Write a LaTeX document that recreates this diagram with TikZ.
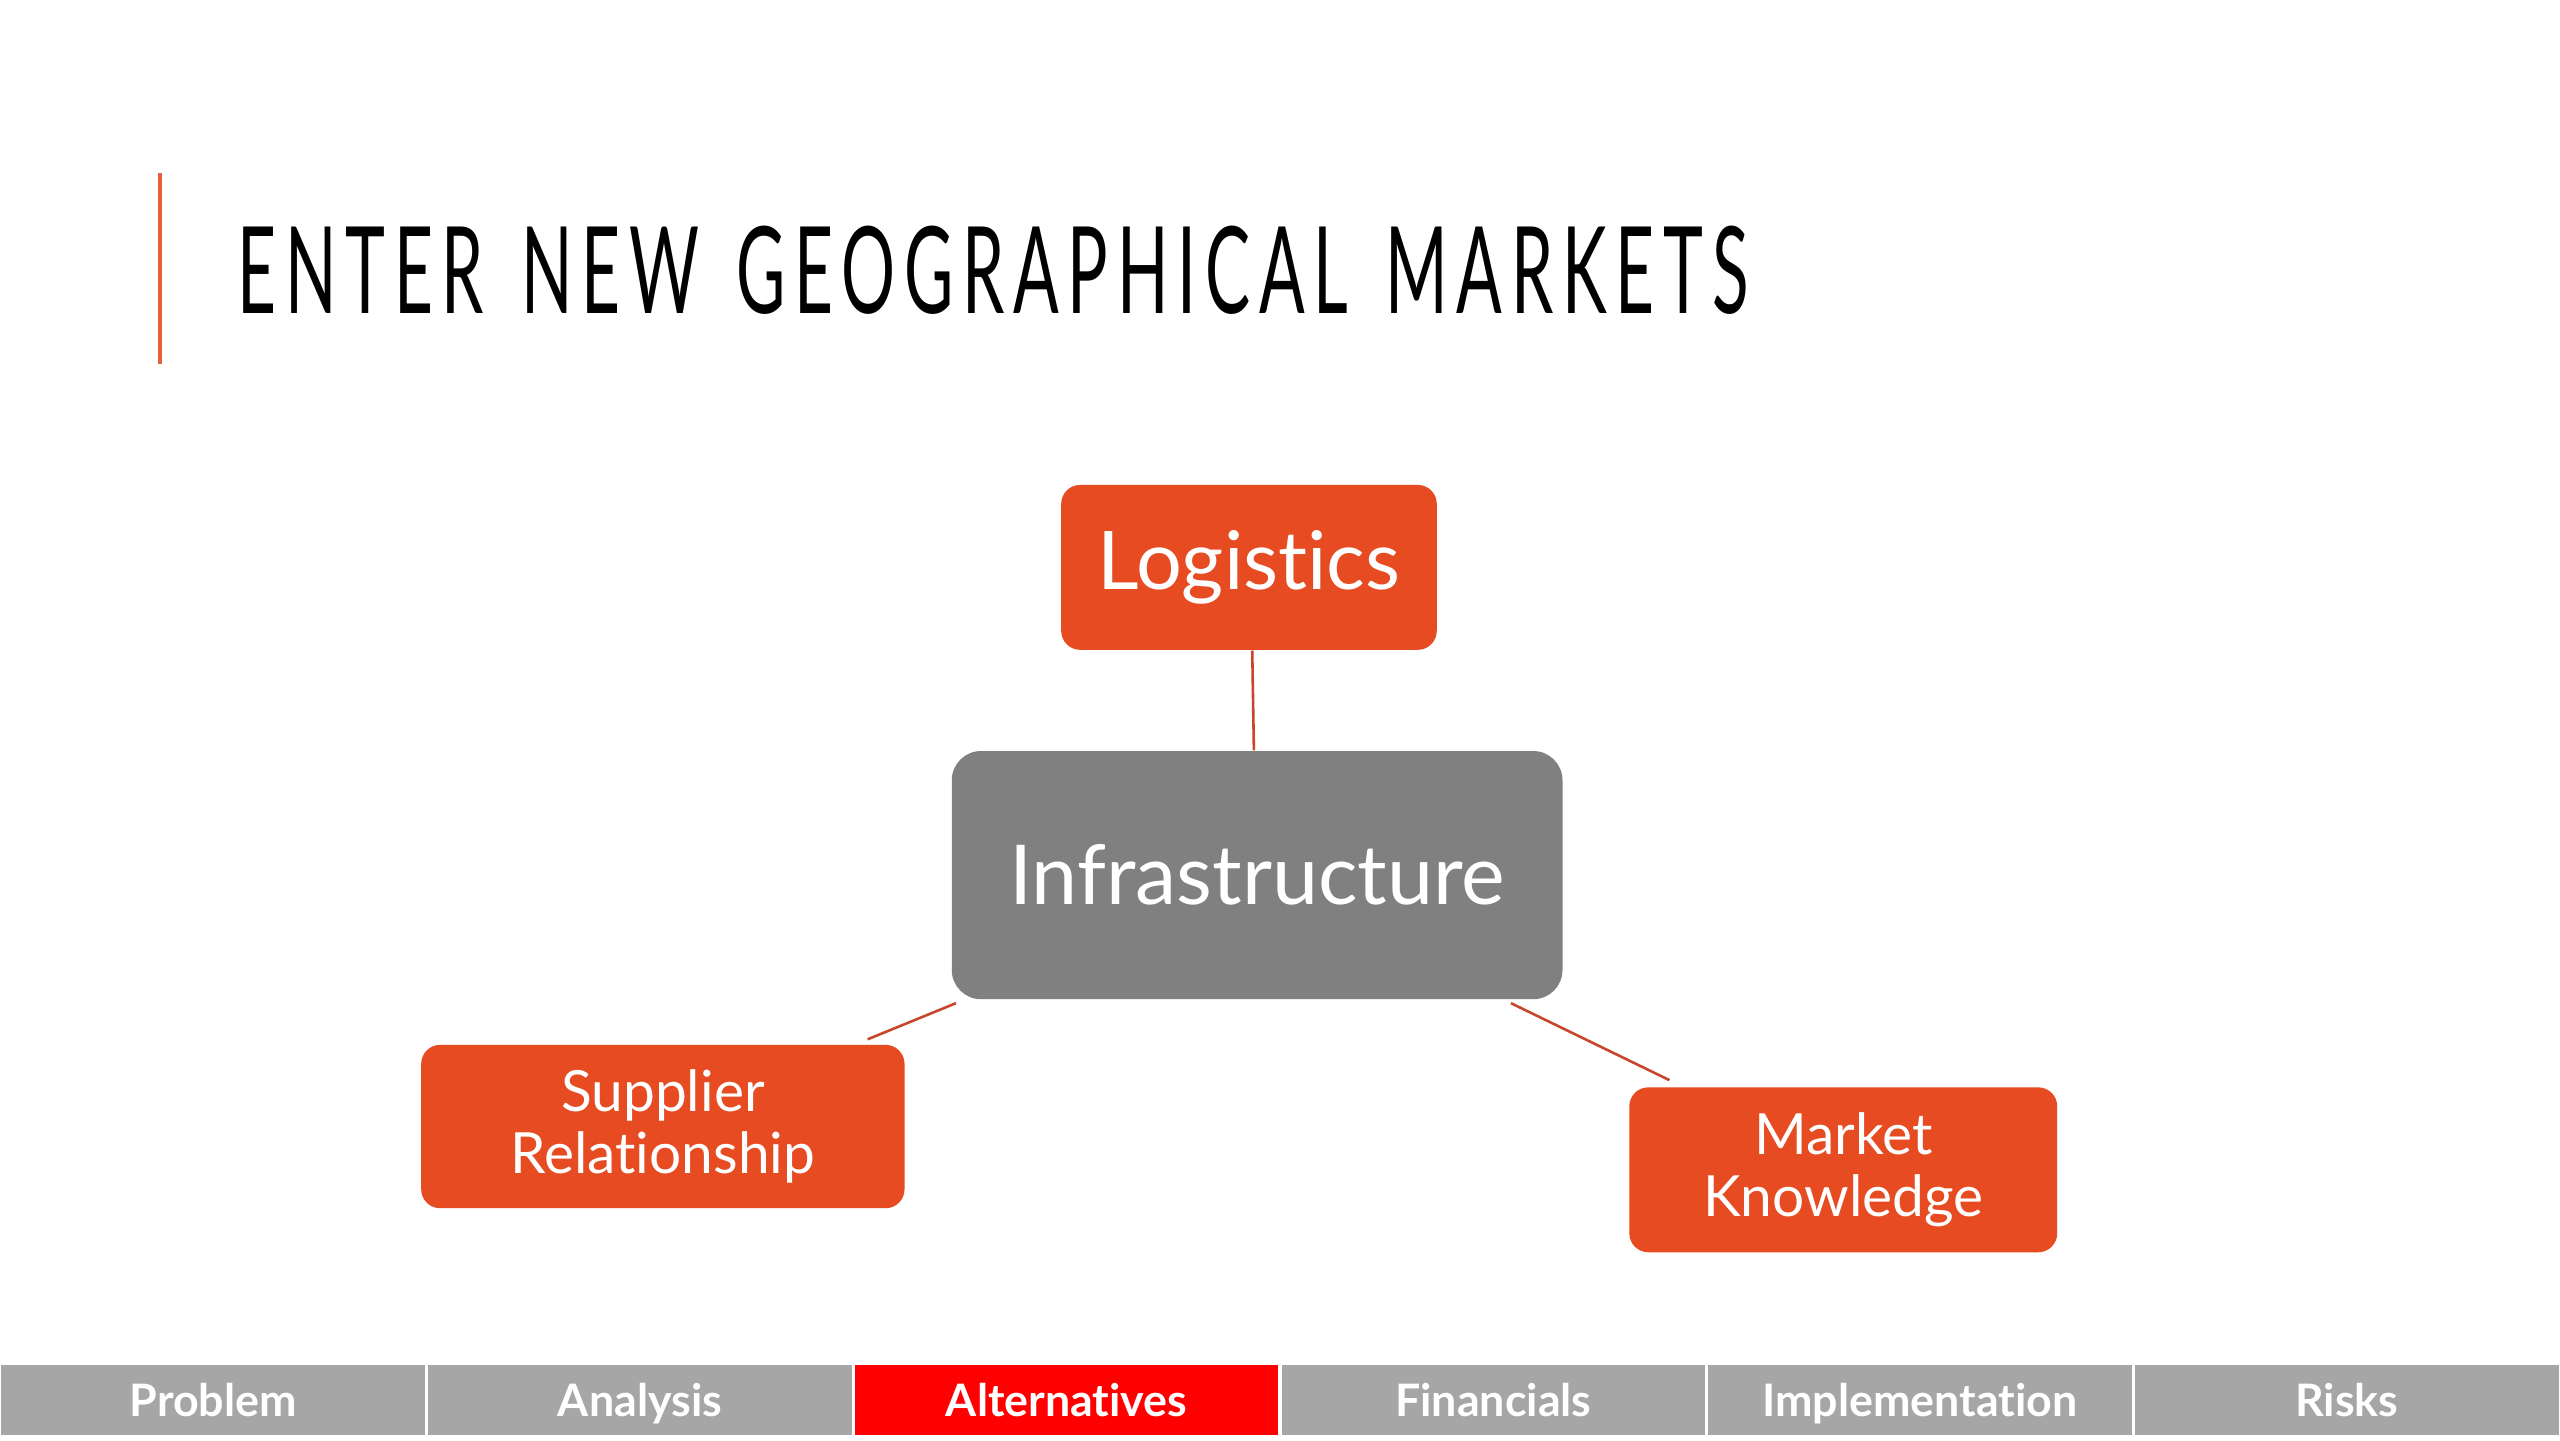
\documentclass[tikz,border=0pt]{standalone}
\usepackage{fontspec}
\defaultfontfeatures{Ligatures={NoCommon}}
\setmainfont{Lato}[Ligatures={NoCommon,NoDiscretionary,NoRare}]
\usetikzlibrary{calc}
\definecolor{orng}{HTML}{E64B21}
\definecolor{gry}{HTML}{808080}
\definecolor{tabgray}{HTML}{A6A6A6}
\definecolor{tabred}{HTML}{FF0000}
\definecolor{linec}{HTML}{C8462A}
\definecolor{accent}{HTML}{E8603A}
\tikzset{
  obox/.style={fill=orng, rounded corners=5.5pt, text=white, align=center, inner sep=0pt},
  gbox/.style={fill=gry, rounded corners=8.5pt, text=white, align=center, inner sep=0pt},
  conn/.style={draw=linec, line width=0.75pt},
  tabbox/.style={draw=white, line width=0.9pt, fill=tabgray, text=white, inner sep=0pt,
    minimum width=4.3556cm, minimum height=0.75cm, text height=9.4pt, text depth=0pt,
    font=\fontsize{13}{15}\selectfont\bfseries},
  tabsel/.style={tabbox, fill=tabred}
}
\begin{document}
\begin{tikzpicture}[x=0.0166667cm, y=-0.0166667cm]
\useasboundingbox (0,0) rectangle (1568,882);
\fill[white] (0,0) rectangle (1568,882);
% accent line
\draw[accent, line width=1.1pt] (98,106) -- (98,223);
% title
\node[anchor=base west, inner sep=0pt] (title) at (145,192)
  {\resizebox{438.6pt}{25.4pt}{\addfontfeature{LetterSpace=13}\spaceskip=0.55em ENTER NEW GEOGRAPHICAL MARKETS}};
% boxes
\node[obox, minimum width=3.833cm, minimum height=1.683cm,
  font=\fontsize{23.5}{26}\selectfont] (log) at (765,347.5) {Logistics};
\node[gbox, minimum width=6.233cm, minimum height=2.533cm,
  font=\fontsize{24}{27}\selectfont] (inf) at (770,536) {Infrastructure};
\node[obox, minimum width=4.933cm, minimum height=1.667cm,
  font=\fontsize{16.5}{18.2}\selectfont] (sup) at (406,690) {Supplier\\Relationship};
\node[obox, minimum width=4.367cm, minimum height=1.683cm,
  font=\fontsize{16.5}{18.2}\selectfont] (mar) at (1129,716.5) {Market\\Knowledge};
% connectors
\draw[conn] ($(log.south)+(2,0)$) -- ($(inf.north)+(-2,0)$);
\draw[conn] ($(inf.south west)+(3,2)$) -- ($(sup.north east)+(-23,-3)$);
\draw[conn] ($(inf.south east)+(-32,2)$) -- ($(mar.north west)+(25,-4)$);
% tabs
\node[tabbox] (t1) at (130.67,857.5) {Problem};
\node[tabbox] (t2) at (392,857.5) {Analysis};
\node[tabsel] (t3) at (653.33,857.5) {Alternatives};
\node[tabbox] (t4) at (914.67,857.5) {Financials};
\node[tabbox] (t5) at (1176,857.5) {Implementation};
\node[tabbox] (t6) at (1437.33,857.5) {Risks};
\end{tikzpicture}
\end{document}
